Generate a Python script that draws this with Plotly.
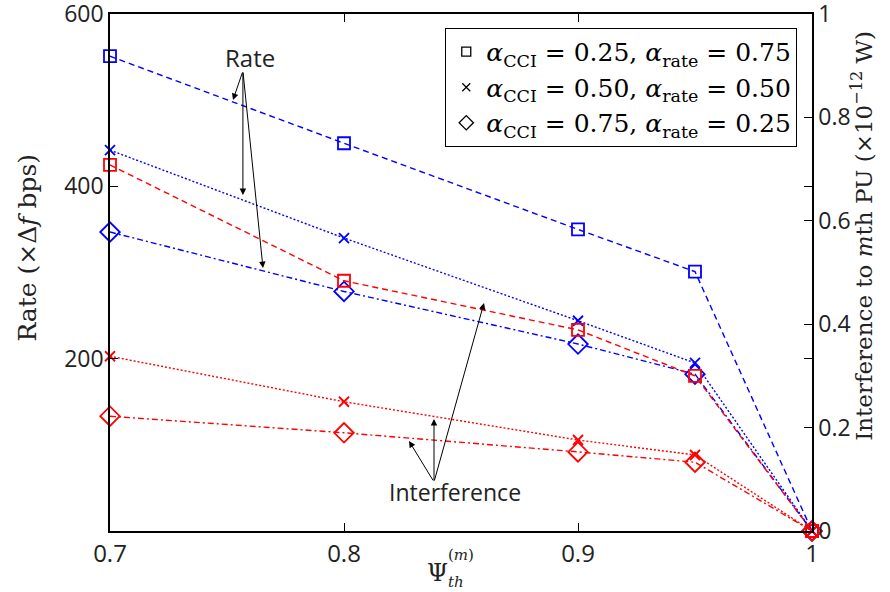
import plotly.graph_objects as go

# ---------------- data ----------------
psi_th = [0.7, 0.8, 0.9, 0.95, 1.0]

rate_sq = [551, 450, 350, 301, 0]     # alpha_CCI=0.25
rate_x = [442, 340, 244, 195, 0]      # alpha_CCI=0.50
rate_di = [347, 278, 217, 182, 0]     # alpha_CCI=0.75

intf_sq = [0.708, 0.484, 0.389, 0.300, 0.0]
intf_x = [0.338, 0.250, 0.176, 0.147, 0.0]
intf_di = [0.222, 0.190, 0.153, 0.133, 0.0]

legend_labels = [
    "<i>α</i><sub>CCI</sub> = 0.25, <i>α</i><sub>rate</sub> = 0.75",
    "<i>α</i><sub>CCI</sub> = 0.50, <i>α</i><sub>rate</sub> = 0.50",
    "<i>α</i><sub>CCI</sub> = 0.75, <i>α</i><sub>rate</sub> = 0.25",
]

x_ticks = [0.7, 0.8, 0.9, 1.0]
x_ticklabels = ["0.7", "0.8", "0.9", "1"]
left_ticks = [200, 400, 600]
right_ticks = [0, 0.2, 0.4, 0.6, 0.8, 1.0]
right_ticklabels = ["0", "0.2", "0.4", "0.6", "0.8", "1"]

# ---------------- styles ----------------
BLUE = "#0000ff"
RED = "#ff0000"
DASH = "6px,4px"
DOT = "2px,2px"
DASHDOT = "6px,3px,2px,3px"
SERIF = "DejaVu Serif"
SANS = "Open Sans"
TXT = "#222222"

series = [
    (rate_sq, "y", BLUE, DASH, "square-open", 12),
    (rate_x, "y", BLUE, DOT, "x-thin-open", 10),
    (rate_di, "y", BLUE, DASHDOT, "diamond-open", 15),
    (intf_sq, "y2", RED, DASH, "square-open", 12),
    (intf_x, "y2", RED, DOT, "x-thin-open", 10),
    (intf_di, "y2", RED, DASHDOT, "diamond-open", 15),
]

fig = go.Figure()
for vals, yax, col, dash, sym, sz in series:
    fig.add_trace(go.Scatter(
        x=psi_th, y=vals, yaxis=yax, mode="lines+markers",
        line=dict(color=col, width=1.4, dash=dash),
        marker=dict(symbol=sym, size=sz, color=col, line=dict(color=col, width=1.8)),
        showlegend=False, cliponaxis=False,
    ))

for lab, sym, sz in zip(legend_labels, ["square-open", "x-thin-open", "diamond-open"], [9, 8, 11]):
    fig.add_trace(go.Scatter(
        x=[None], y=[None], mode="markers", name=lab,
        marker=dict(symbol=sym, size=sz, color="black", line=dict(color="black", width=1.3)),
    ))

# ---------------- annotations ----------------
ann = []
rate_tail = (0.7568, 533.8)
rate_heads = [(0.75256, 500.2), (0.7568, 389.9), (0.76538, 305.2)]
for hx, hy in rate_heads:
    ann.append(dict(x=hx, y=hy, ax=rate_tail[0], ay=rate_tail[1], xref="x", yref="y",
                    axref="x", ayref="y", text="", showarrow=True, arrowhead=2,
                    arrowsize=1.3, arrowwidth=1, arrowcolor="black"))
ann.append(dict(x=0.7598, y=550.1, xref="x", yref="y", text="Rate", showarrow=False,
                font=dict(family=SANS, size=24, color=TXT)))

intf_tail = (0.83846, 56.9)
intf_heads = [(0.82778, 104.45), (0.83846, 129.98), (0.85983, 264.6)]
for hx, hy in intf_heads:
    ann.append(dict(x=hx, y=hy, ax=intf_tail[0], ay=intf_tail[1], xref="x", yref="y",
                    axref="x", ayref="y", text="", showarrow=True, arrowhead=2,
                    arrowsize=1.3, arrowwidth=1, arrowcolor="black"))
ann.append(dict(x=0.84744, y=45.3, xref="x", yref="y", text="Interference", showarrow=False,
                font=dict(family=SANS, size=23, color=TXT)))

# x-axis title  Psi_th^(m)
ann.append(dict(x=0.466, y=-0.082, xref="paper", yref="paper", text="Ψ", showarrow=False,
                xanchor="center", yanchor="middle",
                font=dict(family=SERIF, size=24, color=TXT)))
ann.append(dict(x=0.500, y=-0.046, xref="paper", yref="paper", text="(<i>m</i>)", showarrow=False,
                xanchor="center", yanchor="middle",
                font=dict(family=SERIF, size=15, color=TXT)))
ann.append(dict(x=0.493, y=-0.098, xref="paper", yref="paper", text="<i>th</i>", showarrow=False,
                xanchor="center", yanchor="middle",
                font=dict(family=SERIF, size=15, color=TXT)))

# y-axis titles as rotated annotations
ann.append(dict(x=-0.117, y=0.548, xref="paper", yref="paper", textangle=-90,
                xanchor="center", yanchor="middle",
                text="Rate (×Δ<i>f</i> bps)", showarrow=False,
                font=dict(family=SERIF, size=25, color=TXT)))
ann.append(dict(x=1.0712, y=0.571, xref="paper", yref="paper", textangle=-90,
                xanchor="center", yanchor="middle",
                text="Interference to <i>m</i>th PU (×10<sup>−12</sup> W)", showarrow=False,
                font=dict(family=SERIF, size=23, color=TXT)))

fig.update_layout(
    width=890, height=592,
    margin=dict(l=110, r=78, t=14, b=61),
    plot_bgcolor="white", paper_bgcolor="white",
    annotations=ann,
    xaxis=dict(range=[0.7, 1.0], tickvals=x_ticks, ticktext=x_ticklabels,
               showline=True, linecolor="black", linewidth=1.5, mirror="ticks",
               ticks="inside", ticklen=8, tickcolor="black", showgrid=False, zeroline=False,
               automargin=False,
               tickfont=dict(family=SANS, size=24, color=TXT)),
    yaxis=dict(range=[0, 600], tickvals=left_ticks,
               showline=True, linecolor="black", linewidth=1.5, mirror="ticks",
               ticks="inside", ticklen=8, tickcolor="black", showgrid=False, zeroline=False,
               ticklabeloverflow="allow", automargin=False,
               tickfont=dict(family=SANS, size=23, color=TXT)),
    yaxis2=dict(range=[0, 1], overlaying="y", side="right", tickvals=right_ticks,
                ticktext=right_ticklabels,
                showline=True, linecolor="black", linewidth=1.5,
                ticks="inside", ticklen=8, tickcolor="black", showgrid=False, zeroline=False,
                ticklabeloverflow="allow", automargin=False,
                tickfont=dict(family=SANS, size=23, color=TXT)),
    legend=dict(x=0.979, y=0.973, xanchor="right", yanchor="top",
                bordercolor="black", borderwidth=1, bgcolor="white",
                font=dict(family=SERIF, size=25, color="black"),
                itemwidth=30, tracegroupgap=0),
)

fig.write_html("out.html", config={"displayModeBar": False},
               post_script="document.body.style.margin='0';document.body.style.overflow='hidden';")
